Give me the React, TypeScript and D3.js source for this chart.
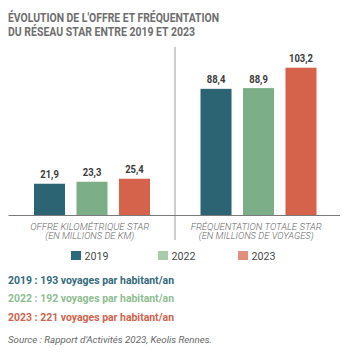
import React from "react";
import * as d3 from "d3";

const categories = ["offre", "freq"];
const categoryLabels = [
  ["OFFRE KILOMÉTRIQUE STAR", "(EN MILLIONS DE KM)"],
  ["FRÉQUENTATION TOTALE STAR", "(EN MILLIONS DE VOYAGES)"],
];
const years = ["2019", "2022", "2023"];
const values2019 = [21.9, 88.4];
const values2022 = [23.3, 88.9];
const values2023 = [25.4, 103.2];
const barColors = ["#2d6474", "#7caf87", "#d5634b"];
const legendColors = ["#2f6a7a", "#a9cbaa", "#e0907a"];
const textColors = ["#356a7c", "#8fbd93", "#cf644d"];
const perInhabitant = [
  "2019 : 193 voyages par habitant/an",
  "2022 : 192 voyages par habitant/an",
  "2023 : 221 voyages par habitant/an",
];
const titleLines = ["ÉVOLUTION DE L'OFFRE ET FRÉQUENTATION", "DU RÉSEAU STAR ENTRE 2019 ET 2023"];
const sourceText = "Source : Rapport d'Activités 2023, Keolis Rennes.";

const W = 353;
const H = 359;
const FONT = "Roboto, 'Noto Sans', sans-serif";

function fmt(v: number) {
  return d3.format(".1f")(v).replace(".", ",");
}

export default function App() {
  const series = [values2019, values2022, values2023];
  const baseY = 215;
  const y = d3.scaleLinear().domain([0, 103.2]).range([baseY, 67.7]);
  const x0 = d3.scaleBand<string>().domain(categories).range([8.5, 341.5]).padding(0);
  const x1 = d3.scaleBand<string>().domain(years).range([25.5, 141.5]).paddingInner(0.27).paddingOuter(0);

  const labelWidths = [
    [119, 89],
    [131, 115],
  ];
  const perWidths = [166, 166, 166];

  return (
    <svg width={W} height={H} style={{ position: "absolute", left: 0, top: 0, display: "block" }} fontFamily={FONT}>
      <rect width={W} height={H} fill="#ffffff" />
      {/* title */}
      {titleLines.map((t, i) => (
        <text key={t} x={8} y={22 + i * 14} fontSize={12} fontWeight={700} fill="#6e6e6e"
          textLength={i === 0 ? 211 : 187} lengthAdjust="spacingAndGlyphs">{t}</text>
      ))}
      {/* divider */}
      <line x1={x0("freq")!} x2={x0("freq")!} y1={47} y2={240} stroke="#9a9a9a" strokeWidth={1} />
      {/* baseline */}
      <line x1={x0.range()[0]} x2={x0.range()[1] - 1.5} y1={baseY + 0.5} y2={baseY + 0.5} stroke="#7a7a7a" strokeWidth={1} />
      {categories.map((c, ci) => {
        const gx = x0(c)!;
        const cx = gx + x0.bandwidth() / 2;
        return (
          <g key={c}>
            {years.map((yr, yi) => {
              const v = series[yi][ci];
              const bx = gx + x1(yr)!;
              const bw = x1.bandwidth();
              return (
                <g key={yr}>
                  <rect x={bx} y={y(v)} width={bw} height={baseY - y(v)} fill={barColors[yi]} />
                  <text transform={`translate(${bx + bw / 2},${y(v) - 5.5}) scale(0.86,1)`} textAnchor="middle"
                    fontSize={11} fontWeight={700} fill="#3a3a3a">{fmt(v)}</text>
                </g>
              );
            })}
            {categoryLabels[ci].map((l, li) => (
              <text key={l} x={cx - 2} y={229.5 + li * 9.8} textAnchor="middle" fontSize={9}
                fontStyle="italic" fontWeight={300} fill="#666"
                textLength={labelWidths[ci][li]} lengthAdjust="spacingAndGlyphs">{l}</text>
            ))}
          </g>
        );
      })}
      {/* legend */}
      {years.map((yr, i) => {
        const lx = [71, 158, 238][i];
        return (
          <g key={yr}>
            <rect x={lx} y={251} width={10} height={9} fill={legendColors[i]} />
            <text x={lx + 13.5} y={260} fontSize={11.5} fill="#4a4a4a" textLength={24} lengthAdjust="spacingAndGlyphs">{yr}</text>
          </g>
        );
      })}
      {/* per inhabitant */}
      {perInhabitant.map((t, i) => (
        <text key={t} x={8} y={283.5 + i * 18.5} fontSize={11.5} fontWeight={700} fill={textColors[i]}
          textLength={perWidths[i]} lengthAdjust="spacingAndGlyphs">{t}</text>
      ))}
      {/* source */}
      <text x={8} y={342.5} fontSize={9.5} fontStyle="italic" fill="#666" textLength={204} lengthAdjust="spacingAndGlyphs">{sourceText}</text>
    </svg>
  );
}
